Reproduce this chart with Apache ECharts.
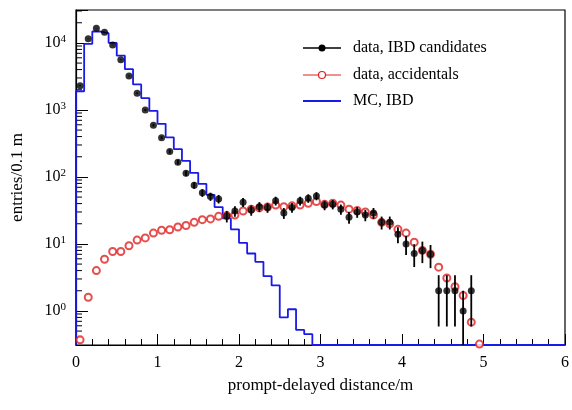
<!DOCTYPE html>
<html>
<head>
<meta charset="utf-8">
<script src="https://cdn.jsdelivr.net/npm/echarts@6/dist/echarts.min.js"></script>
<style>body{margin:0;background:#fff}</style>
</head>
<body>
<div id="main" style="width:572px;height:410px;"></div>
<script>
// bin width 0.1 m, values at bin centres
var binWidth = 0.1;
var ibdData = [2300, 11500, 16500, 14400, 9300, 5600, 3200, 1780, 1000, 590,
  385, 240, 166, 113, 75, 58, 51, 47, 26, 31,
  42, 32, 36, 35, 44, 29, 35, 44, 48, 52,
  38, 39, 33, 25, 30, 27, 29, 21, 21, 14,
  10, 7.2, 8, 7, 2, 2, 2, 1, 2];
var accData = [0.37, 1.6, 4.0, 5.9, 7.7, 7.7, 9.4, 11.4, 12.3, 14.5,
  16, 16.3, 17.9, 18.8, 21, 23, 23.6, 25.8, 26.5, 27,
  31, 33, 34.5, 35.5, 38, 36, 37, 38, 40.5, 43,
  39, 40.5, 38, 33, 31.5, 30, 27, 21, 20, 16.5,
  14.5, 10.6, 8, 7, 4.5, 3.1, 2.3, 1.7, 0.68, 0.32];
var mcData = [1900, 9700, 14800, 14000, 10000, 6450, 4050, 2400, 1500, 970,
  620, 390, 260, 174, 115, 79, 54, 35.5, 24, 16.5,
  10.4, 7.2, 5.4, 3.3, 2.4, 0.8, 1.06, 0.52, 0.45, 0,
  0, 0, 0, 0, 0, 0, 0, 0, 0, 0, 0, 0, 0, 0, 0, 0, 0, 0, 0, 0,
  0, 0, 0, 0, 0, 0, 0, 0, 0, 0];
var xTicks = [0, 1, 2, 3, 4, 5, 6];

var yMin = 0.31, yMax = 31000;
var font = 'Liberation Serif';
var red = '#e02020';

function centre(i) { return +(binWidth * (i + 0.5)).toFixed(3); }
var ibdPts = ibdData.map(function (v, i) { return [centre(i), v]; });
var accPts = accData.map(function (v, i) { return [centre(i), v]; });
var errPts = ibdData.map(function (v, i) {
  var e = Math.sqrt(v);
  return [centre(i), Math.max(v - e, yMin), v + e];
});
var mcPts = [[0, yMin]];
mcData.forEach(function (v, i) { mcPts.push([+(binWidth * i).toFixed(3), v > 0 ? v : yMin]); });
mcPts.push([6, mcPts[mcPts.length - 1][1]]);

// log-spaced minor ticks on the y axis (2..9 per decade)
var minorY = [];
for (var d = -1; d <= 4; d++) {
  for (var m = 2; m <= 9; m++) {
    var t = m * Math.pow(10, d);
    if (t > yMin && t < yMax) minorY.push([0, t]);
  }
}

var chart = echarts.init(document.getElementById('main'));
var legY = [48, 75, 101], legX = 303;
chart.setOption({
  animation: false,
  grid: { left: 76, right: 6, top: 10, bottom: 65, show: true, borderColor: '#000', borderWidth: 1.2 },
  xAxis: {
    type: 'value', min: 0, max: 6, interval: 1,
    name: 'prompt-delayed distance/m', nameLocation: 'middle', nameGap: 32,
    nameTextStyle: { fontFamily: font, fontSize: 17, color: '#000' },
    axisLine: { lineStyle: { color: '#000', width: 1.2 } },
    axisTick: { inside: true, length: 11, lineStyle: { color: '#000' } },
    minorTick: { show: true, splitNumber: 5, length: 6, lineStyle: { color: '#000' } },
    axisLabel: { fontFamily: font, fontSize: 16, color: '#000', margin: 10 },
    splitLine: { show: false }
  },
  yAxis: {
    type: 'log', logBase: 10, min: yMin, max: yMax,
    name: 'entries/0.1 m', nameLocation: 'middle', nameGap: 50,
    nameTextStyle: { fontFamily: font, fontSize: 17, color: '#000' },
    axisLine: { lineStyle: { color: '#000', width: 1.2 } },
    axisTick: { inside: true, length: 12, lineStyle: { color: '#000' } },
    minorTick: { show: false },
    axisLabel: {
      fontFamily: font, fontSize: 16, color: '#000', margin: 10,
      formatter: function (v) {
        var p = Math.round(Math.log10(v));
        if (Math.abs(Math.log10(v) - p) > 1e-6) return '';
        return '10{s|' + p + '}';
      },
      rich: { s: { fontFamily: font, fontSize: 11, verticalAlign: 'top', padding: [0, 0, 8, 0], color: '#000' } }
    },
    splitLine: { show: false }
  },
  series: [
    {
      name: 'minorY', type: 'custom', data: minorY, silent: true, z: 1,
      renderItem: function (params, api) {
        var p = api.coord([api.value(0), api.value(1)]);
        return { type: 'line', shape: { x1: p[0], y1: p[1], x2: p[0] + 6, y2: p[1] },
          style: { stroke: '#000', lineWidth: 1 } };
      }
    },
    {
      name: 'MC, IBD', type: 'line', step: 'end', data: mcPts, symbol: 'none',
      lineStyle: { color: '#1a1ae6', width: 1.8 }, z: 2
    },
    {
      name: 'accidentals', type: 'scatter', data: accPts, symbol: 'emptyCircle', symbolSize: 7,
      itemStyle: { color: red, borderColor: red, borderWidth: 1.2 }, clip: false, z: 3
    },
    {
      name: 'err', type: 'custom', data: errPts, z: 4,
      renderItem: function (params, api) {
        var a = api.coord([api.value(0), api.value(1)]);
        var b = api.coord([api.value(0), api.value(2)]);
        return { type: 'line', shape: { x1: a[0], y1: a[1], x2: b[0], y2: b[1] },
          style: { stroke: '#000', lineWidth: 1.8 } };
      }
    },
    {
      name: 'IBD', type: 'scatter', data: ibdPts, symbol: 'circle', symbolSize: 7,
      itemStyle: { color: '#000' }, z: 5
    }
  ],
  graphic: [
    { type: 'line', shape: { x1: legX, y1: legY[0], x2: legX + 38, y2: legY[0] }, style: { stroke: '#000', lineWidth: 1.5 } },
    { type: 'circle', shape: { cx: legX + 19, cy: legY[0], r: 3.5 }, style: { fill: '#000' } },
    { type: 'text', x: legX + 50, y: legY[0], style: { text: 'data, IBD candidates', font: '16px "Liberation Serif"', fill: '#000', verticalAlign: 'middle' } },
    { type: 'line', shape: { x1: legX, y1: legY[1], x2: legX + 38, y2: legY[1] }, style: { stroke: red, lineWidth: 1.2 } },
    { type: 'circle', shape: { cx: legX + 19, cy: legY[1], r: 3.5 }, style: { fill: '#fff', stroke: red, lineWidth: 1.2 } },
    { type: 'text', x: legX + 50, y: legY[1], style: { text: 'data, accidentals', font: '16px "Liberation Serif"', fill: '#000', verticalAlign: 'middle' } },
    { type: 'line', shape: { x1: legX, y1: legY[2], x2: legX + 38, y2: legY[2] }, style: { stroke: '#1a1ae6', lineWidth: 1.8 } },
    { type: 'text', x: legX + 50, y: legY[2], style: { text: 'MC, IBD', font: '16px "Liberation Serif"', fill: '#000', verticalAlign: 'middle' } }
  ]
});
</script>
</body>
</html>
